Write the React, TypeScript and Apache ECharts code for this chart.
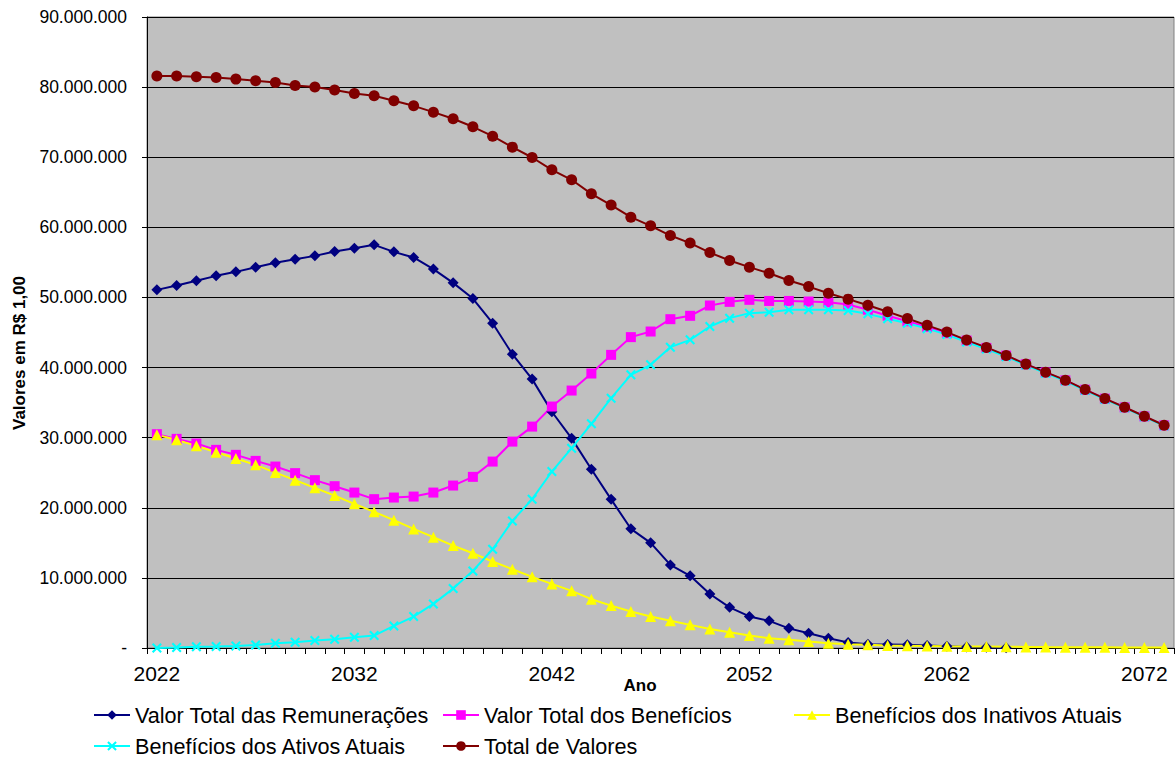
import React, { useEffect, useRef } from "react";
import * as echarts from "echarts";

// Categories (years)
const years = [
  "2022", "2023", "2024", "2025", "2026", "2027", "2028", "2029", "2030", "2031",
  "2032", "2033", "2034", "2035", "2036", "2037", "2038", "2039", "2040", "2041",
  "2042", "2043", "2044", "2045", "2046", "2047", "2048", "2049", "2050", "2051",
  "2052", "2053", "2054", "2055", "2056", "2057", "2058", "2059", "2060", "2061",
  "2062", "2063", "2064", "2065", "2066", "2067", "2068", "2069", "2070", "2071",
  "2072", "2073",
];

// Values in millions of R$
const remuneracoes = [
  51.08, 51.7, 52.37, 53.08, 53.65, 54.32, 54.94, 55.46, 55.93, 56.55,
  57.03, 57.5, 56.5, 55.7, 54.04, 52.08, 49.84, 46.33, 41.9, 38.35,
  33.7, 29.9, 25.5, 21.2, 17.0, 15.0, 11.85, 10.3, 7.7, 5.8,
  4.5, 3.87, 2.8, 2.1, 1.4, 0.8, 0.55, 0.5, 0.45, 0.35,
  0.25, 0.15, 0.1, 0.05, null, null, null, null, null, null,
  null, null,
];

const beneficios = [
  30.5, 29.83, 29.16, 28.26, 27.55, 26.69, 25.88, 24.94, 23.94, 23.08,
  22.17, 21.23, 21.46, 21.6, 22.17, 23.17, 24.41, 26.59, 29.44, 31.58,
  34.44, 36.72, 39.15, 41.81, 44.34, 45.14, 46.9, 47.38, 48.85, 49.37,
  49.66, 49.5, 49.5, 49.42, 49.3, 49.0, 48.25, 47.4, 46.6, 45.8,
  44.9, 43.85, 42.8, 41.7, 40.47, 39.32, 38.18, 36.84, 35.56, 34.32,
  33.03, 31.76,
];

const inativos = [
  30.4, 29.69, 28.83, 27.93, 27.02, 26.12, 25.02, 23.94, 22.84, 21.74,
  20.56, 19.42, 18.23, 16.99, 15.81, 14.61, 13.52, 12.33, 11.24, 10.15,
  9.14, 8.15, 6.96, 6.05, 5.2, 4.48, 3.9, 3.3, 2.72, 2.25,
  1.77, 1.4, 1.16, 0.92, 0.68, 0.54, 0.45, 0.36, 0.33, 0.3,
  0.25, 0.22, 0.2, 0.18, 0.15, 0.13, 0.12, 0.1, 0.09, 0.08,
  0.07, 0.06,
];

const ativos = [
  0.0, 0.06, 0.18, 0.22, 0.3, 0.44, 0.68, 0.83, 1.06, 1.26,
  1.54, 1.77, 3.15, 4.48, 6.29, 8.47, 11.0, 14.09, 18.13, 21.23,
  25.17, 28.5, 31.97, 35.63, 38.96, 40.39, 42.91, 43.95, 45.85, 47.05,
  47.76, 47.9, 48.23, 48.23, 48.23, 48.13, 47.66, 46.95, 46.33, 45.55,
  44.7, 43.65, 42.65, 41.55, 40.35, 39.2, 38.08, 36.75, 35.48, 34.25,
  32.97, 31.7,
];

const totalValores = [
  81.6, 81.6, 81.47, 81.37, 81.14, 80.9, 80.66, 80.23, 80.0, 79.6,
  79.1, 78.76, 78.05, 77.33, 76.43, 75.48, 74.34, 73.0, 71.44, 69.96,
  68.2, 66.78, 64.78, 63.17, 61.45, 60.21, 58.83, 57.75, 56.4, 55.27,
  54.32, 53.45, 52.41, 51.55, 50.6, 49.76, 48.88, 47.97, 46.99, 46.02,
  45.06, 43.92, 42.87, 41.73, 40.49, 39.34, 38.2, 36.86, 35.58, 34.34,
  33.05, 31.77,
];

const MILLION = 1000000;
const Y_MAX = 90000000;
const Y_STEP = 10000000;

const FONT = "'Liberation Sans', Arial, Helvetica, sans-serif";
const X_MARK =
  "path://M0,1.5L1.5,0L5,3.5L8.5,0L10,1.5L6.5,5L10,8.5L8.5,10L5,6.5L1.5,10L0,8.5L3.5,5Z";

function fmtThousands(v: number): string {
  if (v === 0) return "-";
  return String(Math.round(v)).replace(/\B(?=(\d{3})+(?!\d))/g, ".");
}

function makeSeries(
  name: string,
  values: (number | null)[],
  color: string,
  symbol: string,
  size: number
) {
  return {
    name,
    type: "line",
    data: values.map((v) => (v == null ? null : v * MILLION)),
    symbol,
    symbolSize: size,
    showAllSymbol: true,
    connectNulls: false,
    lineStyle: { color, width: 2 },
    itemStyle: { color, borderWidth: 0 },
    emphasis: { disabled: true },
  };
}

export default function App() {
  const ref = useRef<HTMLDivElement>(null);

  useEffect(() => {
    document.body.style.margin = "0";
    const chart = echarts.init(ref.current as HTMLDivElement, null, {
      renderer: "svg",
    });

    const legendBase = {
      orient: "vertical",
      top: 704,
      padding: 0,
      itemGap: 9,
      itemWidth: 36,
      itemHeight: 12,
      selectedMode: false,
      textStyle: { fontSize: 21.6, lineHeight: 21.7, fontFamily: FONT, color: "#000" },
    };

    chart.setOption({
      animation: false,
      backgroundColor: "#fff",
      textStyle: { fontFamily: FONT },
      grid: {
        left: 147,
        top: 17,
        right: 2,
        bottom: 112,
        show: true,
        backgroundColor: "#C0C0C0",
        borderColor: "#808080",
        borderWidth: 1,
      },
      xAxis: {
        type: "category",
        data: years,
        boundaryGap: true,
        axisLine: { show: true, lineStyle: { color: "#000", width: 1 } },
        axisTick: { show: true, interval: 0, length: 6, lineStyle: { color: "#000" } },
        axisLabel: {
          interval: 9,
          fontSize: 21,
          color: "#000",
          margin: 15,
          fontFamily: FONT,
        },
        splitLine: { show: false },
      },
      yAxis: {
        type: "value",
        min: 0,
        max: Y_MAX,
        interval: Y_STEP,
        axisLine: { show: true, lineStyle: { color: "#000", width: 1 } },
        axisTick: { show: true, length: 5, lineStyle: { color: "#000" } },
        axisLabel: {
          fontSize: 17.5,
          color: "#000",
          margin: 20,
          fontFamily: FONT,
          formatter: (v: number) => fmtThousands(v),
        },
        splitLine: { show: true, lineStyle: { color: "#000", width: 1 } },
      },
      legend: [
        {
          ...legendBase,
          left: 93,
          data: ["Valor Total das Remunerações", "Benefícios dos Ativos Atuais"],
        },
        {
          ...legendBase,
          left: 442,
          data: ["Valor Total dos Benefícios", "Total de Valores"],
        },
        {
          ...legendBase,
          left: 793,
          data: ["Benefícios dos Inativos Atuais"],
        },
      ],
      graphic: [
        {
          type: "text",
          x: 19,
          y: 353,
          rotation: Math.PI / 2,
          style: {
            text: "Valores em R$ 1,00",
            font: `bold 17px ${FONT}`,
            fill: "#000",
            align: "center",
            verticalAlign: "middle",
            textAlign: "center",
            textVerticalAlign: "middle",
          },
        },
        {
          type: "text",
          x: 640,
          y: 685,
          style: {
            text: "Ano",
            font: `bold 17px ${FONT}`,
            fill: "#000",
            align: "center",
            verticalAlign: "middle",
            textAlign: "center",
            textVerticalAlign: "middle",
          },
        },
      ],
      series: [
        makeSeries("Valor Total das Remunerações", remuneracoes, "#000080", "diamond", 11),
        makeSeries("Valor Total dos Benefícios", beneficios, "#FF00FF", "rect", 10),
        makeSeries("Benefícios dos Inativos Atuais", inativos, "#FFFF00", "triangle", 11),
        makeSeries("Benefícios dos Ativos Atuais", ativos, "#00FFFF", X_MARK, 10),
        makeSeries("Total de Valores", totalValores, "#800000", "circle", 11),
      ],
    });

    return () => {
      chart.dispose();
    };
  }, []);

  return <div ref={ref} style={{ width: 1176, height: 760 }} />;
}
